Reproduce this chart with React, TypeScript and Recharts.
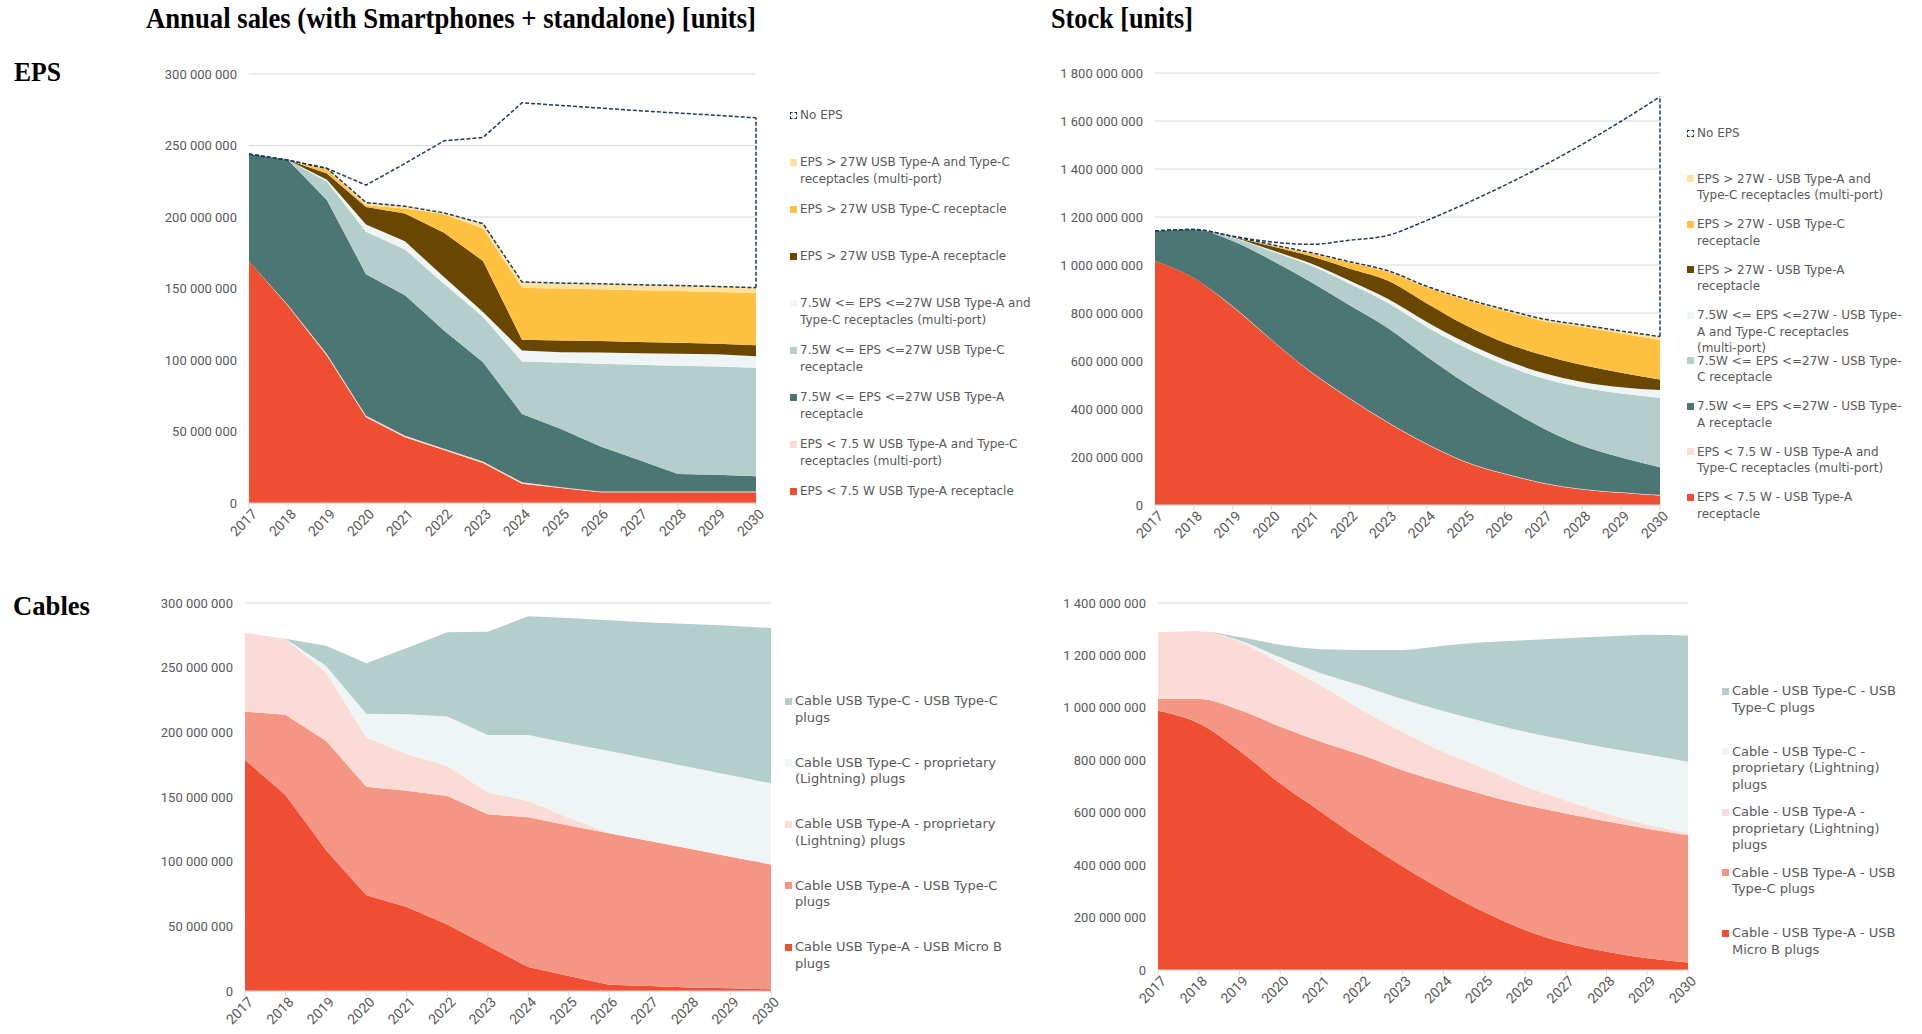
import React from "react";
import {
  Area,
  CartesianGrid,
  ComposedChart,
  Legend,
  Line,
  ReferenceLine,
  XAxis,
  YAxis,
} from "recharts";

const years = [
  "2017", "2018", "2019", "2020", "2021", "2022", "2023",
  "2024", "2025", "2026", "2027", "2028", "2029", "2030",
];

// values in millions of units

// EPS – annual sales
const salesEpsLowA = [169, 138, 103, 60, 46, 37, 28, 13.5, 10.5, 7.5, 7.5, 7.5, 7.5, 7.5];
const salesEpsLowMulti = [0, 0.5, 1, 1, 1, 1, 1, 1, 0.5, 0.5, 0.5, 0.5, 0.5, 0.5];
const salesEpsMidA = [75, 101.3, 107.8, 99, 98.2, 82.7, 69.5, 47.8, 40.8, 31.7, 22, 12.3, 11.8, 10.7];
const salesEpsMidC = [0, 0, 12.8, 29.6, 32, 32.7, 31.5, 36.7, 46.5, 57.7, 66.6, 75.7, 75.7, 75.9];
const salesEpsMidMulti = [0, 0, 1.4, 5.1, 5.8, 4.6, 3.5, 7.7, 7.2, 7.8, 8.2, 8.4, 8.5, 8.1];
const salesEpsHighA = [0, 0, 4.4, 12.3, 19.4, 30.9, 35.8, 7.5, 8.2, 8, 7.8, 7.6, 7.4, 7.7];
const salesEpsHighC = [0, 0, 2.8, 1.2, 3.6, 13.1, 22.6, 36.4, 36.2, 36.2, 36.1, 36.2, 36.2, 36.7];
const salesEpsHighMulti = [0, 0, 0.8, 1.9, 1.5, 0.9, 3.5, 4, 3.9, 3.9, 3.9, 3.9, 3.8, 3.5];
const salesEpsNone = [0, 0, 0, 12.2, 29.9, 50.4, 60.2, 125.3, 124.2, 122.9, 121.7, 120.6, 119.7, 118.8];

// EPS – stock
const stockEpsLowA = [1017, 946, 826, 687, 555, 444, 343, 253, 178, 129, 90, 65, 51, 40];
const stockEpsLowMulti = [0, 0, 2, 2, 2, 2, 2, 2, 2, 2, 2, 2, 2, 2];
const stockEpsMidA = [125, 202, 272, 331, 373, 387, 391, 363, 327, 278, 227, 180, 145, 115];
const stockEpsMidC = [0, 0, 14, 37, 69, 90, 106, 124, 148, 174, 208, 243, 267, 290];
const stockEpsMidMulti = [0, 0, 2, 5, 8, 12, 16, 21, 22, 22, 23, 23, 26, 32];
const stockEpsHighA = [0, 0, 1, 16, 30, 50, 76, 77, 72, 71, 74, 70, 60, 44];
const stockEpsHighC = [0, 0, 1, 4, 11, 25, 37, 66, 105, 132, 143, 159, 164, 164];
const stockEpsHighMulti = [0, 0, 1, 3, 4, 4, 5, 5, 5, 7, 8, 8, 10, 15];
const stockEpsNone = [0, 0, 1, 11, 34, 89, 148, 275, 397, 517, 639, 753, 874, 999];

// Cables – annual sales
const salesCableAMicroB = [178.7, 151.5, 109, 74.1, 65, 51.4, 34.9, 18.6, 11.6, 4.9, 3.9, 2.8, 2.1, 1.3];
const salesCableAC = [37.4, 62, 84.4, 83.9, 89.9, 99.4, 101.7, 115.7, 116.4, 117, 112, 107.2, 101.7, 96.6];
const salesCableALightning = [60.7, 58.9, 52.9, 38, 28.1, 23.2, 16.8, 12.6, 6, 0, 0, 0, 0, 0];
const salesCableCLightning = [0, 0, 5.2, 18.3, 31, 38.2, 44.6, 51.1, 57.6, 63.7, 63.5, 63, 63, 62.7];
const salesCableCC = [0, 0, 15.5, 39.2, 51.2, 65.1, 79.8, 91.7, 96.8, 101, 105.6, 110.7, 115.6, 120];

// Cables – stock
const stockCableAMicroB = [989, 941, 836, 711, 603, 495, 395, 303, 221, 153, 103, 70, 45, 29];
const stockCableAC = [45, 93, 156, 217, 268, 325, 367, 411, 448, 476, 494, 497, 494, 485];
const stockCableALightning = [254, 258, 261, 242, 213, 172, 147, 119, 100, 72, 51, 30, 16, 9];
const stockCableCLightning = [0, 0, 4, 23, 48, 92, 124, 155, 178, 208, 229, 251, 267, 271];
const stockCableCC = [0, 0, 13, 48, 92, 137, 188, 249, 303, 349, 389, 424, 457, 482];

const GREY = "#595959";
const GRID = "#D9D9D9";
const NAVY = "#1F3A5C";

const COL = {
  lowA: "#F04E32",
  lowMulti: "#FADBD6",
  midA: "#4B7674",
  midC: "#B4CECB",
  midMulti: "#EEF5F4",
  highA: "#6A4700",
  highC: "#FFC13F",
  highMulti: "#FFE2A1",
  cableAC: "#F59584",
};

type Serie = { key: string; label: string; color: string; values: number[] };

const fmtUnits = (v: number) =>
  v === 0 ? "0" : Math.round(v).toString().replace(/\B(?=(\d{3})+(?!\d))/g, " ");

function YearTick({ x, y, payload }: any) {
  return (
    <text
      x={x}
      y={y}
      transform={`rotate(-45 ${x} ${y})`}
      textAnchor="end"
      dx={3}
      dy={10}
      fontSize={14}
      fontFamily="Roboto"
      fill={GREY}
    >
      {payload.value}
    </text>
  );
}

function LegendList({
  items,
  slot,
  fontSize,
  lineHeight,
}: {
  items: { label: string; color: string; dashed?: boolean }[];
  slot: number;
  fontSize: number;
  lineHeight: number;
}) {
  return (
    <div
      style={{
        fontFamily: "DejaVu Sans",
        fontSize,
        color: GREY,
        lineHeight: `${lineHeight}px`,
      }}
    >
      {items.map((it) => (
        <div key={it.label} style={{ height: slot, display: "flex", alignItems: "flex-start" }}>
          <span
            style={{
              width: 7,
              height: 7,
              marginTop: (lineHeight - 7) / 2,
              marginRight: 3,
              flex: "none",
              boxSizing: "border-box",
              background: it.dashed ? "#fff" : it.color,
              border: it.dashed ? `1.5px dashed ${NAVY}` : "none",
            }}
          />
          <span style={{ whiteSpace: "pre" }}>{it.label}</span>
        </div>
      ))}
    </div>
  );
}

interface PanelProps {
  left: number;
  top: number;
  width: number;
  height: number;
  marginTop: number;
  marginRight: number;
  yWidth: number;
  yMax: number;
  yStep: number;
  curve: "linear" | "monotone";
  series: Serie[];
  noEps?: number[];
  legendLeft: number;
  legendTop: number;
  legendWidth: number;
  slot: number;
  fontSize: number;
  lineHeight: number;
}

function Panel(p: PanelProps) {
  const rows = years.map((year, i) => {
    const row: Record<string, number | string> = { year };
    let sum = 0;
    p.series.forEach((s) => {
      row[s.key] = s.values[i] * 1e6;
      sum += s.values[i] * 1e6;
    });
    if (p.noEps) {
      row.lower = sum;
      row.upper = sum + p.noEps[i] * 1e6;
    }
    return row;
  });
  const last = rows[rows.length - 1];
  const ticks: number[] = [];
  for (let v = 0; v <= p.yMax; v += p.yStep) ticks.push(v);

  const legendItems = [
    ...(p.noEps ? [{ label: "No EPS", color: NAVY, dashed: true }] : []),
    ...[...p.series].reverse().map((s) => ({ label: s.label, color: s.color })),
  ];

  const dashed = { stroke: NAVY, strokeWidth: 1.5, strokeDasharray: "4 2" };

  return (
    <div style={{ position: "absolute", left: p.left, top: p.top }}>
      <ComposedChart
        width={p.width}
        height={p.height}
        data={rows}
        margin={{ top: p.marginTop, right: p.marginRight, left: 0, bottom: 0 }}
      >
        <CartesianGrid stroke={GRID} vertical={false} />
        <XAxis
          dataKey="year"
          height={50}
          interval={0}
          tick={<YearTick />}
          tickSize={5}
          tickLine={{ stroke: GRID }}
          axisLine={{ stroke: GRID }}
        />
        <YAxis
          width={p.yWidth}
          domain={[0, p.yMax]}
          ticks={ticks}
          tickFormatter={fmtUnits}
          axisLine={false}
          tickLine={false}
          tickMargin={6}
          tick={{ fontSize: 13, fontFamily: "Roboto", fill: GREY }}
        />
        {p.series.map((s) => (
          <Area
            key={s.key}
            dataKey={s.key}
            stackId="a"
            type={p.curve}
            fill={s.color}
            fillOpacity={1}
            stroke="none"
            isAnimationActive={false}
          />
        ))}
        {p.noEps && (
          <Line dataKey="lower" type={p.curve} {...dashed} dot={false} activeDot={false} isAnimationActive={false} />
        )}
        {p.noEps && (
          <Line dataKey="upper" type={p.curve} {...dashed} dot={false} activeDot={false} isAnimationActive={false} />
        )}
        {p.noEps && (
          <ReferenceLine
            segment={[
              { x: last.year, y: last.lower },
              { x: last.year, y: last.upper },
            ]}
            {...dashed}
          />
        )}
        <Legend
          layout="vertical"
          align="center"
          verticalAlign="middle"
          wrapperStyle={{ left: p.legendLeft, top: p.legendTop, width: p.legendWidth }}
          content={() => (
            <LegendList
              items={legendItems}
              slot={p.slot}
              fontSize={p.fontSize}
              lineHeight={p.lineHeight}
            />
          )}
        />
      </ComposedChart>
    </div>
  );
}

const salesEpsSeries: Serie[] = [
  { key: "lowA", label: "EPS < 7.5 W USB Type-A receptacle", color: COL.lowA, values: salesEpsLowA },
  { key: "lowMulti", label: "EPS < 7.5 W USB Type-A and Type-C\nreceptacles (multi-port)", color: COL.lowMulti, values: salesEpsLowMulti },
  { key: "midA", label: "7.5W <= EPS <=27W USB Type-A\nreceptacle", color: COL.midA, values: salesEpsMidA },
  { key: "midC", label: "7.5W <= EPS <=27W USB Type-C\nreceptacle", color: COL.midC, values: salesEpsMidC },
  { key: "midMulti", label: "7.5W <= EPS <=27W USB Type-A and\nType-C receptacles (multi-port)", color: COL.midMulti, values: salesEpsMidMulti },
  { key: "highA", label: "EPS > 27W USB Type-A receptacle", color: COL.highA, values: salesEpsHighA },
  { key: "highC", label: "EPS > 27W USB Type-C receptacle", color: COL.highC, values: salesEpsHighC },
  { key: "highMulti", label: "EPS > 27W USB Type-A and Type-C\nreceptacles (multi-port)", color: COL.highMulti, values: salesEpsHighMulti },
];

const stockEpsSeries: Serie[] = [
  { key: "lowA", label: "EPS < 7.5 W - USB Type-A\nreceptacle", color: COL.lowA, values: stockEpsLowA },
  { key: "lowMulti", label: "EPS < 7.5 W - USB Type-A and\nType-C receptacles (multi-port)", color: COL.lowMulti, values: stockEpsLowMulti },
  { key: "midA", label: "7.5W <= EPS <=27W - USB Type-\nA receptacle", color: COL.midA, values: stockEpsMidA },
  { key: "midC", label: "7.5W <= EPS <=27W - USB Type-\nC receptacle", color: COL.midC, values: stockEpsMidC },
  { key: "midMulti", label: "7.5W <= EPS <=27W - USB Type-\nA and Type-C receptacles\n(multi-port)", color: COL.midMulti, values: stockEpsMidMulti },
  { key: "highA", label: "EPS > 27W - USB Type-A\nreceptacle", color: COL.highA, values: stockEpsHighA },
  { key: "highC", label: "EPS > 27W - USB Type-C\nreceptacle", color: COL.highC, values: stockEpsHighC },
  { key: "highMulti", label: "EPS > 27W - USB Type-A and\nType-C receptacles (multi-port)", color: COL.highMulti, values: stockEpsHighMulti },
];

const salesCableSeries: Serie[] = [
  { key: "aMicro", label: "Cable USB Type-A - USB Micro B\nplugs", color: COL.lowA, values: salesCableAMicroB },
  { key: "aC", label: "Cable USB Type-A - USB Type-C\nplugs", color: COL.cableAC, values: salesCableAC },
  { key: "aLight", label: "Cable USB Type-A - proprietary\n(Lightning) plugs", color: COL.lowMulti, values: salesCableALightning },
  { key: "cLight", label: "Cable USB Type-C - proprietary\n(Lightning) plugs", color: COL.midMulti, values: salesCableCLightning },
  { key: "cC", label: "Cable USB Type-C - USB Type-C\nplugs", color: COL.midC, values: salesCableCC },
];

const stockCableSeries: Serie[] = [
  { key: "aMicro", label: "Cable - USB Type-A - USB\nMicro B plugs", color: COL.lowA, values: stockCableAMicroB },
  { key: "aC", label: "Cable - USB Type-A - USB\nType-C plugs", color: COL.cableAC, values: stockCableAC },
  { key: "aLight", label: "Cable - USB Type-A -\nproprietary (Lightning)\nplugs", color: COL.lowMulti, values: stockCableALightning },
  { key: "cLight", label: "Cable - USB Type-C -\nproprietary (Lightning)\nplugs", color: COL.midMulti, values: stockCableCLightning },
  { key: "cC", label: "Cable - USB Type-C - USB\nType-C plugs", color: COL.midC, values: stockCableCC },
];

const titleFont = { fontFamily: "Liberation Serif", fontWeight: 700 as const, fill: "#000" };

export default function App() {
  return (
    <div
      style={{
        position: "absolute",
        left: 0,
        top: 0,
        width: 1922,
        height: 1034,
        background: "#fff",
        overflow: "hidden",
      }}
    >
      <svg width={1922} height={1034} style={{ position: "absolute", left: 0, top: 0 }}>
        <text x={146} y={28} fontSize={29} textLength={610} lengthAdjust="spacingAndGlyphs" {...titleFont}>
          Annual sales (with Smartphones + standalone) [units]
        </text>
        <text x={1051} y={28} fontSize={29} textLength={142} lengthAdjust="spacingAndGlyphs" {...titleFont}>
          Stock [units]
        </text>
        <text x={14} y={81} fontSize={27} textLength={47} lengthAdjust="spacingAndGlyphs" {...titleFont}>
          EPS
        </text>
        <text x={13} y={615} fontSize={27} textLength={77} lengthAdjust="spacingAndGlyphs" {...titleFont}>
          Cables
        </text>
      </svg>

      <Panel
        left={140}
        top={50}
        width={900}
        height={503}
        marginTop={24}
        marginRight={284}
        yWidth={109}
        yMax={300e6}
        yStep={50e6}
        curve="linear"
        series={salesEpsSeries}
        noEps={salesEpsNone}
        legendLeft={650}
        legendTop={57}
        legendWidth={245}
        slot={47}
        fontSize={12}
        lineHeight={16.5}
      />
      <Panel
        left={1040}
        top={50}
        width={880}
        height={505}
        marginTop={23}
        marginRight={260}
        yWidth={115}
        yMax={1800e6}
        yStep={200e6}
        curve="monotone"
        series={stockEpsSeries}
        noEps={stockEpsNone}
        legendLeft={647}
        legendTop={75}
        legendWidth={230}
        slot={45.5}
        fontSize={12}
        lineHeight={16.5}
      />
      <Panel
        left={130}
        top={580}
        width={910}
        height={461}
        marginTop={23}
        marginRight={269}
        yWidth={115}
        yMax={300e6}
        yStep={50e6}
        curve="linear"
        series={salesCableSeries}
        legendLeft={655}
        legendTop={113}
        legendWidth={245}
        slot={61.5}
        fontSize={13}
        lineHeight={16.7}
      />
      <Panel
        left={1040}
        top={580}
        width={880}
        height={440}
        marginTop={23}
        marginRight={232}
        yWidth={118}
        yMax={1400e6}
        yStep={200e6}
        curve="monotone"
        series={stockCableSeries}
        legendLeft={682}
        legendTop={103}
        legendWidth={195}
        slot={60.5}
        fontSize={13}
        lineHeight={16.7}
      />
    </div>
  );
}
